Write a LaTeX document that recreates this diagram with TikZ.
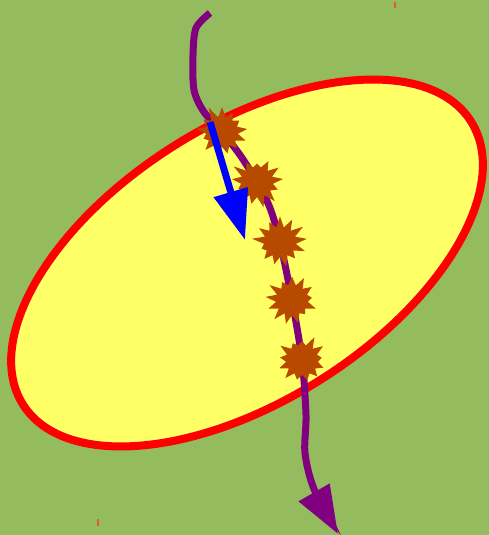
\documentclass[tikz,border=0pt]{standalone}
\usepackage{tikz}
\usetikzlibrary{shapes, shapes.symbols, arrows.meta, calc, backgrounds}

\definecolor{grass}{RGB}{149,187,95}
\definecolor{egg}{RGB}{255,255,102}
\definecolor{rim}{RGB}{255,0,0}
\definecolor{track}{RGB}{128,0,128}
\definecolor{burst}{RGB}{184,74,0}
\definecolor{tick}{RGB}{222,96,40}

\begin{document}
\begin{tikzpicture}[x=1pt, y=1pt,
		region/.style={draw=rim, fill=egg, line width=8pt},
		hit/.style={starburst, starburst points=13, starburst point height=13pt, fill=burst, draw=none, minimum width=58pt, minimum height=56pt, inner sep=0pt},
		path_arrow/.style={-{Triangle[length=48pt, width=34pt]}, line width=7pt, track},
		dir_arrow/.style={-{Triangle[length=50pt, width=34pt]}, line width=7pt, blue},
		mark_tick/.style={line width=2pt, tick}
		]
		
		% Background
		\fill[grass] (0,0) rectangle (489,535);
		\useasboundingbox (0,0) rectangle (489,535);
		\draw[mark_tick] (395,527) -- (395,533);
		\draw[mark_tick] (98,9) -- (98,16);
		
		% Region
		\draw[region, rotate around={32.3:(247,272)}] (247,272) ellipse (265 and 138);
		
		% Hit points
		\coordinate (c1) at (222,403);
		\coordinate (c2) at (257,353);
		\coordinate (c3) at (280,293);
		\coordinate (c4) at (292,235);
		\coordinate (c5) at (302,175);
		\coordinate (start) at (210,522);
		\coordinate (tip) at (338,1);
		
		% Track
		\draw[path_arrow] plot[smooth, tension=0.5] coordinates {(start) (196,507) (193,480) (194,445) (204,423) (c1) (240,380) (c2) (270,327) (c3) (c4) (c5) (306,120) (305,82) (314,46) (tip)};
		
		\node[hit, random starburst=11] (s1) at (c1) {};
		\node[hit, random starburst=23] (s2) at (c2) {};
		\node[hit, random starburst=37] (s3) at (c3) {};
		\node[hit, random starburst=41] (s4) at (c4) {};
		\node[hit, random starburst=59] (s5) at (c5) {};
		
		% Direction
		\coordinate (d0) at (210,413);
		\coordinate (d1) at (245,295);
		\draw[dir_arrow] (d0) -- (d1);
		
	\end{tikzpicture}
\end{document}
